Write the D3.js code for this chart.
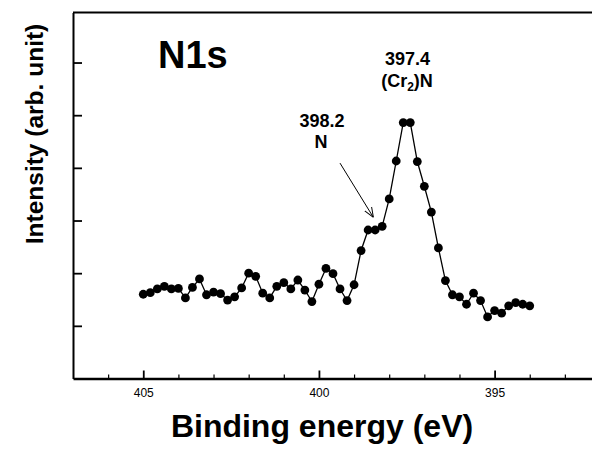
<!DOCTYPE html>
<html>
<head>
<meta charset="utf-8">
<script src="https://cdn.jsdelivr.net/npm/d3@7"></script>
<style>
  html, body { margin: 0; padding: 0; background: #fff; }
  svg { display: block; }
  text { font-family: "Liberation Sans", Arial, Helvetica, sans-serif; fill: #000; }
</style>
</head>
<body>
<svg id="chart" width="592" height="454"></svg>
<script>
// ---- data ----
const energies = [405.0, 404.8, 404.6, 404.4, 404.2, 404.0, 403.8, 403.6, 403.4, 403.2,
                  403.0, 402.8, 402.6, 402.4, 402.2, 402.0, 401.8, 401.6, 401.4, 401.2,
                  401.0, 400.8, 400.6, 400.4, 400.2, 400.0, 399.8, 399.6, 399.4, 399.2,
                  399.0, 398.8, 398.6, 398.4, 398.2, 398.0, 397.8, 397.6, 397.4, 397.2,
                  397.0, 396.8, 396.6, 396.4, 396.2, 396.0, 395.8, 395.6, 395.4, 395.2,
                  395.0, 394.8, 394.6, 394.4, 394.2, 394.0];
const intensity = [1.60, 1.63, 1.70, 1.75, 1.70, 1.71, 1.53, 1.73, 1.89, 1.59,
                   1.64, 1.61, 1.49, 1.55, 1.72, 2.00, 1.94, 1.62, 1.53, 1.75,
                   1.82, 1.70, 1.87, 1.68, 1.46, 1.79, 2.09, 1.99, 1.70, 1.48,
                   1.78, 2.43, 2.82, 2.82, 2.89, 3.41, 4.13, 4.86, 4.86, 4.12,
                   3.65, 3.16, 2.48, 1.86, 1.59, 1.55, 1.41, 1.62, 1.48, 1.17,
                   1.29, 1.24, 1.38, 1.44, 1.41, 1.38];
const xMajorTicks = [405, 400, 395];
const xMinorTicks = [406, 404, 403, 402, 401, 399, 398, 397, 396, 394, 393];
const yTicks = [1, 2, 3, 4, 5, 6];
const xTitle = "Binding energy (eV)";
const yTitle = "Intensity (arb. unit)";
const panelLabel = "N1s";

// ---- layout ----
const svg = d3.select("#chart");
const mLeft = 73, mRight = 600, mTop = 12.5, mBottom = 378.5;
const x = d3.scaleLinear().domain([407, 392]).range([mLeft, mRight]);
const y = d3.scaleLinear().domain([0, 6.95]).range([mBottom, mTop]);

// frame top line
svg.append("line")
  .attr("x1", mLeft).attr("x2", 592).attr("y1", mTop).attr("y2", mTop)
  .attr("stroke", "#000").attr("stroke-width", 2);

// x minor ticks
const xMinor = svg.append("g").attr("transform", `translate(0,${mBottom})`)
  .call(d3.axisBottom(x).tickValues(xMinorTicks).tickSizeInner(-4).tickSizeOuter(0).tickFormat(""));
xMinor.select(".domain").remove();
xMinor.selectAll("line").attr("stroke-width", 1.2);

// x major axis
const xAxis = svg.append("g").attr("transform", `translate(0,${mBottom})`)
  .call(d3.axisBottom(x).tickValues(xMajorTicks).tickSizeInner(-8).tickSizeOuter(0).tickPadding(10).tickFormat(d3.format("d")));
xAxis.select(".domain").attr("stroke-width", 2.5);
xAxis.selectAll("line").attr("stroke-width", 1.8);
xAxis.selectAll("text").attr("font-size", 12).style("font-family", '"Liberation Sans", Arial, sans-serif');

// y axis
const yAxis = svg.append("g").attr("transform", `translate(${mLeft},0)`)
  .call(d3.axisLeft(y).tickValues(yTicks).tickSizeInner(-9).tickSizeOuter(0).tickFormat(""));
yAxis.select(".domain").attr("stroke-width", 2);
yAxis.selectAll("line").attr("stroke-width", 1.8);

// data line
const line = d3.line().x((d, i) => x(energies[i])).y(d => y(d));
svg.append("path").datum(intensity)
  .attr("d", line).attr("fill", "none").attr("stroke", "#000").attr("stroke-width", 1.3);

// markers
svg.append("g").selectAll("circle").data(intensity).join("circle")
  .attr("cx", (d, i) => x(energies[i])).attr("cy", d => y(d)).attr("r", 4.4).attr("fill", "#000");

// axis titles
svg.append("text").attr("x", 322).attr("y", 437).attr("text-anchor", "middle")
  .attr("font-size", 32).attr("font-weight", "bold").text(xTitle);
svg.append("text").attr("transform", "translate(43,134) rotate(-90)").attr("text-anchor", "middle")
  .attr("font-size", 24.5).attr("font-weight", "bold").text(yTitle);

// panel label
svg.append("text").attr("x", 158).attr("y", 68).attr("font-size", 38).attr("font-weight", "bold").text(panelLabel);

// annotations
svg.append("text").attr("x", 407.5).attr("y", 65).attr("text-anchor", "middle")
  .attr("font-size", 18).attr("font-weight", "bold").text("397.4");
const cr = svg.append("text").attr("x", 407).attr("y", 87).attr("text-anchor", "middle")
  .attr("font-size", 18).attr("font-weight", "bold");
cr.append("tspan").text("(Cr");
cr.append("tspan").attr("font-size", 12).attr("dy", 4).text("2");
cr.append("tspan").attr("dy", -4).text(")N");
svg.append("text").attr("x", 322).attr("y", 127).attr("text-anchor", "middle")
  .attr("font-size", 18).attr("font-weight", "bold").text("398.2");
svg.append("text").attr("x", 321).attr("y", 148).attr("text-anchor", "middle")
  .attr("font-size", 18).attr("font-weight", "bold").text("N");

// arrow
svg.append("defs").append("marker").attr("id", "ah")
  .attr("viewBox", "0 0 10 10").attr("refX", 10).attr("refY", 5)
  .attr("markerWidth", 10).attr("markerHeight", 10).attr("markerUnits", "userSpaceOnUse")
  .attr("orient", "auto")
  .append("path").attr("d", "M0,1 L10,5 L0,9").attr("fill", "none").attr("stroke", "#000").attr("stroke-width", 1);
svg.append("line")
  .attr("x1", x(399.4)).attr("y1", y(4.09))
  .attr("x2", x(398.45)).attr("y2", y(3.06))
  .attr("stroke", "#000").attr("stroke-width", 1).attr("marker-end", "url(#ah)");
</script>
</body>
</html>
